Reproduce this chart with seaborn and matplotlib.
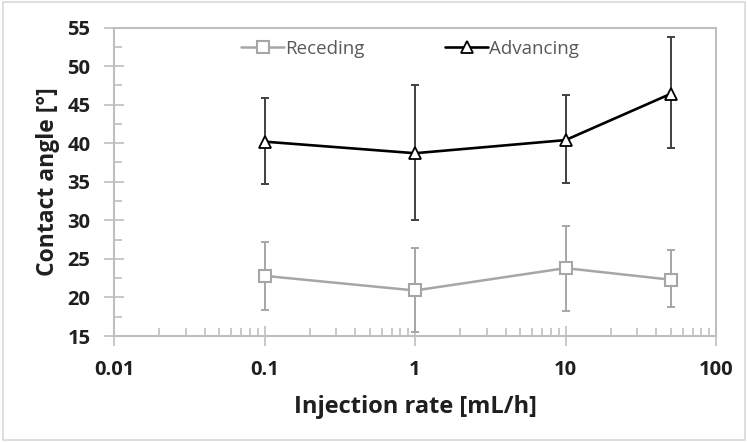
import matplotlib
matplotlib.use("Agg")
import matplotlib.pyplot as plt
import seaborn as sns
import pandas as pd
from matplotlib.ticker import LogLocator, FixedLocator, MultipleLocator, FuncFormatter
from matplotlib.patches import Rectangle
from matplotlib.lines import Line2D

rates = [0.1, 1, 10, 50]
receding = [22.8, 20.9, 23.8, 22.3]
receding_lo = [18.4, 15.5, 18.2, 18.7]
receding_hi = [27.2, 26.4, 29.3, 26.1]
advancing = [40.2, 38.7, 40.4, 46.4]
advancing_lo = [34.7, 30.0, 34.8, 39.4]
advancing_hi = [45.8, 47.6, 46.2, 53.8]
series_names = ["Receding", "Advancing"]
x_ticks = [0.01, 0.1, 1, 10, 100]
x_tick_labels = ["0.01", "0.1", "1", "10", "100"]

sns.set_theme(style="white")
plt.rcParams['font.family'] = ['Open Sans', 'DejaVu Sans']

df_rec = pd.DataFrame({"rate": rates, "angle": receding})
df_adv = pd.DataFrame({"rate": rates, "angle": advancing})

fig = plt.figure(figsize=(7.48, 4.42), dpi=100)
ax = fig.add_axes([114/748, 1 - 336/442, (716-114)/748, (336-27.5)/442])

grey = "#A6A6A6"
black = "#000000"
spine_c = "#BFBFBF"
text_c = "#1f1f1f"

# error bars
ax.errorbar(rates, receding,
            yerr=[[r - l for r, l in zip(receding, receding_lo)],
                  [h - r for r, h in zip(receding, receding_hi)]],
            fmt="none", ecolor=grey, elinewidth=1.4, capsize=3, capthick=1.4, zorder=2)
ax.errorbar(rates, advancing,
            yerr=[[a - l for a, l in zip(advancing, advancing_lo)],
                  [h - a for a, h in zip(advancing, advancing_hi)]],
            fmt="none", ecolor="#404040", elinewidth=1.4, capsize=3, capthick=1.4, zorder=2)

ms = 9
sns.lineplot(data=df_rec, x="rate", y="angle", color=grey, marker="s", markersize=ms,
             markerfacecolor="white", markeredgecolor=grey, markeredgewidth=1.5,
             linewidth=1.8, ax=ax, zorder=3)
sns.lineplot(data=df_adv, x="rate", y="angle", color=black, marker="^", markersize=ms,
             markerfacecolor="white", markeredgecolor=black, markeredgewidth=1.3,
             linewidth=1.9, ax=ax, zorder=3)

ax.set_xscale("log")
ax.set_xlim(0.01, 100)
ax.set_ylim(15, 55)
ax.xaxis.set_major_locator(FixedLocator(x_ticks))
ax.xaxis.set_major_formatter(FuncFormatter(lambda v, p: x_tick_labels[x_ticks.index(v)] if v in x_ticks else ""))
ax.xaxis.set_minor_locator(LogLocator(base=10, subs=range(2, 10)))
ax.xaxis.set_minor_formatter(FuncFormatter(lambda v, p: ""))
ax.yaxis.set_major_locator(MultipleLocator(5))
ax.yaxis.set_minor_locator(MultipleLocator(2.5))

ax.tick_params(axis="both", which="major", direction="inout", length=14, width=1.2,
               color=spine_c, labelsize=14.5, labelcolor=text_c)
ax.tick_params(axis="both", which="minor", direction="in", length=6, width=1.2, color=spine_c)
ax.tick_params(axis="x", which="both", bottom=True, top=False, pad=10)
ax.tick_params(axis="y", which="both", left=True, right=False, pad=10)
for lab in ax.get_xticklabels() + ax.get_yticklabels():
    lab.set_fontweight("bold")

for s in ax.spines.values():
    s.set_visible(True)
    s.set_color(spine_c)
    s.set_linewidth(1.5)

ax.set_xlabel("Injection rate [mL/h]", fontsize=17, fontweight="bold", color=text_c, labelpad=11)
ax.set_ylabel("Contact angle [°]", fontsize=16.5, fontweight="bold", color=text_c, labelpad=5)

handles = [
    Line2D([], [], color=grey, lw=1.8, marker="s", markersize=ms, markerfacecolor="white",
           markeredgecolor=grey, markeredgewidth=1.5),
    Line2D([], [], color=black, lw=1.9, marker="^", markersize=ms, markerfacecolor="white",
           markeredgecolor=black, markeredgewidth=1.3),
]
leg = ax.legend(handles, series_names, loc="center", bbox_to_anchor=((410 - 114) / 602, 1 - (49 - 27.5) / 308.5),
                ncol=2, frameon=False, fontsize=13.5, handlelength=2.3, handletextpad=0.05,
                columnspacing=4.3, labelcolor="#595959")

fig.patches.append(Rectangle((0.004, 0.004), 0.992, 0.992, transform=fig.transFigure,
                             fill=False, edgecolor="#D9D9D9", linewidth=1.2))

fig.savefig("out.png", dpi=100, facecolor="white")
